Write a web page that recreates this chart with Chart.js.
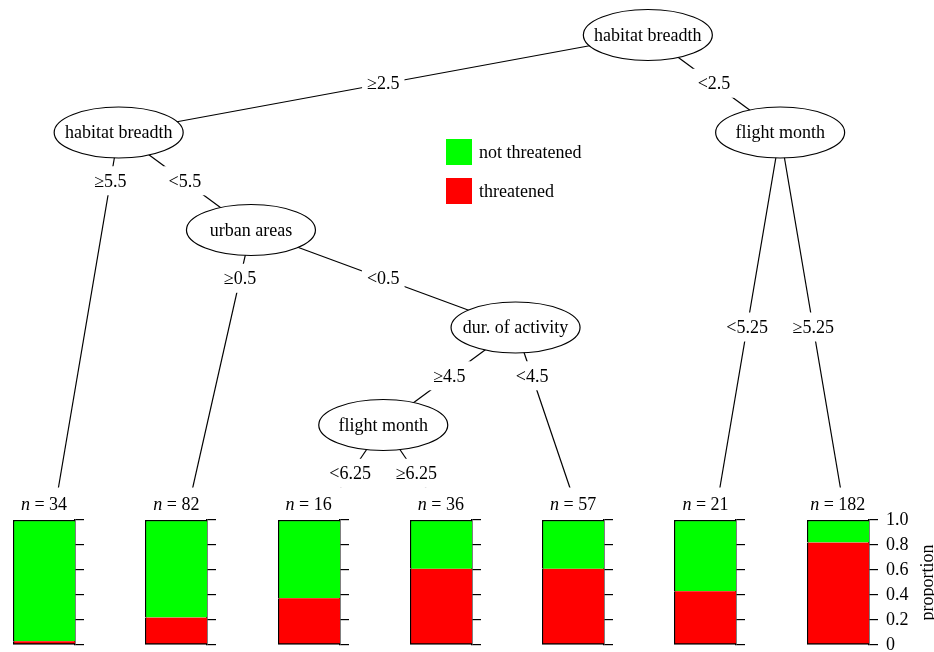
<!DOCTYPE html>
<html>
<head>
<meta charset="utf-8">
<script src="https://cdn.jsdelivr.net/npm/chart.js@4.4.0/dist/chart.umd.min.js"></script>
<style>
    html, body { margin: 0; padding: 0; background: #fff; overflow: hidden; }
    #wrap { position: relative; width: 934px; height: 652px; overflow: hidden; }
    #treeChart { position: absolute; left: 0; top: 0; }
    .leaf { position: absolute; }
    .legend { position: absolute; left: 446px; top: 139px; font-family: 'Liberation Serif', 'Times New Roman', serif; font-size: 18px; color: #000; }
    .legend .row { display: flex; align-items: center; height: 26px; margin-bottom: 13px; }
    .legend .sw { width: 26px; height: 26px; margin-right: 7px; }
</style>
</head>
<body>
<div id="wrap">
    <canvas id="treeChart" width="934" height="652"></canvas>
    <div class="legend" id="legend"></div>
</div>
<script>
const FONT = "'Liberation Serif', 'Times New Roman', serif";
const FSIZE = 18;

// ======================= //
//        TREE DATA        //
// ======================= //
// inner nodes: x in leaf slots, depth = level from the top
const nodeLabels = ['habitat breadth', 'habitat breadth', 'urban areas', 'dur. of activity', 'flight month', 'flight month'];
const nodeX = [4.5, 0.5, 1.5, 3.5, 2.5, 5.5];
const nodeDepth = [1, 2, 3, 4, 5, 2];

// terminal nodes
const leafX = [0, 1, 2, 3, 4, 5, 6];
const leafDepth = 6;
const leafN = [34, 82, 16, 36, 57, 21, 182];
const threatened = [0.03, 0.22, 0.375, 0.61, 0.61, 0.43, 0.82];
const notThreatened = [0.97, 0.78, 0.625, 0.39, 0.39, 0.57, 0.18];

// splits: parent inner node -> child ('n' = inner, 't' = terminal)
const edgeFrom = [0, 0, 1, 1, 2, 2, 3, 3, 4, 4, 5, 5];
const edgeTo = ['n1', 'n5', 't0', 'n2', 't1', 'n3', 'n4', 't4', 't2', 't3', 't5', 't6'];
const edgeLabels = ['≥2.5', '<2.5', '≥5.5', '<5.5', '≥0.5', '<0.5', '≥4.5', '<4.5', '<6.25', '≥6.25', '<5.25', '≥5.25'];

const legendLabels = ['not threatened', 'threatened'];
const legendColors = ['#00ff00', '#ff0000'];

function childPos(ref) {
    const i = parseInt(ref.slice(1), 10);
    return ref[0] === 'n' ? { x: nodeX[i], y: nodeDepth[i] } : { x: leafX[i], y: leafDepth };
}

// edge labels of one split sit halfway between parent and its highest child
function labelPos(e) {
    const p = edgeFrom[e];
    const childDepths = edgeTo.filter((t, k) => edgeFrom[k] === p).map(t => childPos(t).y);
    const ly = (nodeDepth[p] + Math.min(...childDepths)) / 2;
    const c = childPos(edgeTo[e]);
    const f = (ly - nodeDepth[p]) / (c.y - nodeDepth[p]);
    return { x: nodeX[p] + f * (c.x - nodeX[p]), y: ly };
}

const treePlugin = {
    id: 'treeNodes',
    afterDatasetsDraw(chart) {
        const ctx = chart.ctx;
        const sx = chart.scales.x, sy = chart.scales.y;
        ctx.save();
        ctx.font = `${FSIZE}px ${FONT}`;
        ctx.textAlign = 'center';
        ctx.textBaseline = 'middle';
        ctx.fillStyle = '#000';

        // edge labels
        edgeLabels.forEach((lab, e) => {
            const lp = labelPos(e);
            const px = sx.getPixelForValue(lp.x), py = sy.getPixelForValue(lp.y);
            const w = ctx.measureText(lab).width + 10;
            ctx.fillStyle = '#fff';
            ctx.fillRect(px - w / 2, py - 15, w, 29);
            ctx.fillStyle = '#000';
            ctx.fillText(lab, px, py + 1);
        });

        // inner nodes
        nodeLabels.forEach((lab, i) => {
            const px = sx.getPixelForValue(nodeX[i]), py = sy.getPixelForValue(nodeDepth[i]);
            ctx.beginPath();
            ctx.ellipse(px, py, 64.5, 25.5, 0, 0, Math.PI * 2);
            ctx.fillStyle = '#fff';
            ctx.fill();
            ctx.lineWidth = 1.2;
            ctx.strokeStyle = '#000';
            ctx.stroke();
            ctx.fillStyle = '#000';
            ctx.fillText(lab, px, py + 1);
        });

        // n = ... above each terminal panel
        leafN.forEach((n, i) => {
            const px = sx.getPixelForValue(leafX[i]);
            const cx = px - 8.5;
            const top = sy.getPixelForValue(leafDepth);
            const rest = ' = ' + n;
            ctx.font = `italic ${FSIZE}px ${FONT}`;
            const wn = ctx.measureText('n').width;
            ctx.font = `${FSIZE}px ${FONT}`;
            const wr = ctx.measureText(rest).width;
            const tw = wn + wr;
            ctx.fillStyle = '#fff';
            ctx.fillRect(Math.min(cx - tw / 2, px - 12) - 5, top - 35, tw + 28, 35);
            ctx.fillStyle = '#000';
            ctx.textAlign = 'left';
            ctx.font = `italic ${FSIZE}px ${FONT}`;
            ctx.fillText('n', cx - tw / 2, top - 17);
            ctx.font = `${FSIZE}px ${FONT}`;
            ctx.fillText(rest, cx - tw / 2 + wn, top - 17);
            ctx.textAlign = 'center';
        });
        ctx.restore();
    }
};

document.addEventListener('DOMContentLoaded', function() {

    // ======================= //
    //       TREE LAYOUT       //
    // ======================= //
    const edgeSets = edgeTo.map((t, e) => ({
        data: [{ x: nodeX[edgeFrom[e]], y: nodeDepth[edgeFrom[e]] }, childPos(t)],
        showLine: true,
        borderColor: '#000',
        borderWidth: 1.2,
        pointRadius: 0
    }));

    const tree = new Chart(document.getElementById('treeChart'), {
        type: 'scatter',
        data: { datasets: edgeSets },
        options: {
            responsive: false,
            animation: false,
            layout: { padding: 0 },
            plugins: { legend: { display: false }, tooltip: { enabled: false } },
            scales: {
                x: { type: 'linear', min: -0.397, max: 6.663, display: false },
                y: { type: 'linear', reverse: true, min: 0.641, max: 7.328, display: false }
            }
        },
        plugins: [treePlugin]
    });

    // ======================= //
    //      LEGEND (HTML)      //
    // ======================= //
    const legend = document.getElementById('legend');
    legendLabels.forEach((lab, i) => {
        const row = document.createElement('div');
        row.className = 'row';
        row.innerHTML = `<div class="sw" style="background:${legendColors[i]}"></div><span>${lab}</span>`;
        legend.appendChild(row);
    });

    // ======================= //
    //     TERMINAL PANELS     //
    // ======================= //
    const wrap = document.getElementById('wrap');
    const titlePlugin = {
        id: 'propTitle',
        afterDraw(chart) {
            const ctx = chart.ctx;
            const a = chart.chartArea;
            ctx.save();
            ctx.font = `${FSIZE}px ${FONT}`;
            ctx.fillStyle = '#000';
            ctx.textAlign = 'center';
            ctx.textBaseline = 'middle';
            ctx.translate(a.right + 59, (a.top + a.bottom) / 2);
            ctx.rotate(-Math.PI / 2);
            ctx.fillText('proportion', 0, 0);
            ctx.restore();
        }
    };

    leafX.forEach((lx, i) => {
        const last = i === leafX.length - 1;
        const canvas = document.createElement('canvas');
        canvas.className = 'leaf';
        canvas.width = last ? 142 : 74;
        canvas.height = 160;
        canvas.style.left = (tree.scales.x.getPixelForValue(lx) - 39.5) + 'px';
        canvas.style.top = '500px';
        wrap.appendChild(canvas);

        new Chart(canvas, {
            type: 'bar',
            data: {
                labels: [''],
                datasets: [{
                    label: 'threatened',
                    data: [threatened[i]],
                    backgroundColor: '#ff0000',
                    borderColor: '#000',
                    borderWidth: { top: 0, right: 0, bottom: 1.5, left: 1.5 },
                    borderSkipped: false,
                    barPercentage: 1,
                    categoryPercentage: 1
                }, {
                    label: 'not threatened',
                    data: [notThreatened[i]],
                    backgroundColor: '#00ff00',
                    borderColor: '#000',
                    borderWidth: { top: 1.5, right: 0, bottom: 0, left: 1.5 },
                    borderSkipped: false,
                    barPercentage: 1,
                    categoryPercentage: 1
                }]
            },
            options: {
                responsive: false,
                animation: false,
                layout: { padding: { top: 20, bottom: 15, left: 0, right: 0 } },
                plugins: { legend: { display: false }, tooltip: { enabled: false } },
                scales: {
                    x: { stacked: true, display: false },
                    y: {
                        stacked: true,
                        position: 'right',
                        min: 0,
                        max: 1,
                        ticks: {
                            stepSize: 0.2,
                            display: last,
                            padding: 8,
                            color: '#000',
                            font: { family: FONT, size: FSIZE },
                            callback: v => v === 0 ? '0' : v.toFixed(1)
                        },
                        grid: { drawOnChartArea: false, tickLength: 9, color: '#000', lineWidth: 1.2 },
                        border: { display: true, color: '#000', width: 1.5 },
                        afterFit(scale) {
                            scale.width = last ? 80 : 12;
                            scale.paddingTop = 0;
                            scale.paddingBottom = 0;
                        }
                    }
                }
            },
            plugins: last ? [titlePlugin] : []
        });
    });
});
</script>
</body>
</html>
